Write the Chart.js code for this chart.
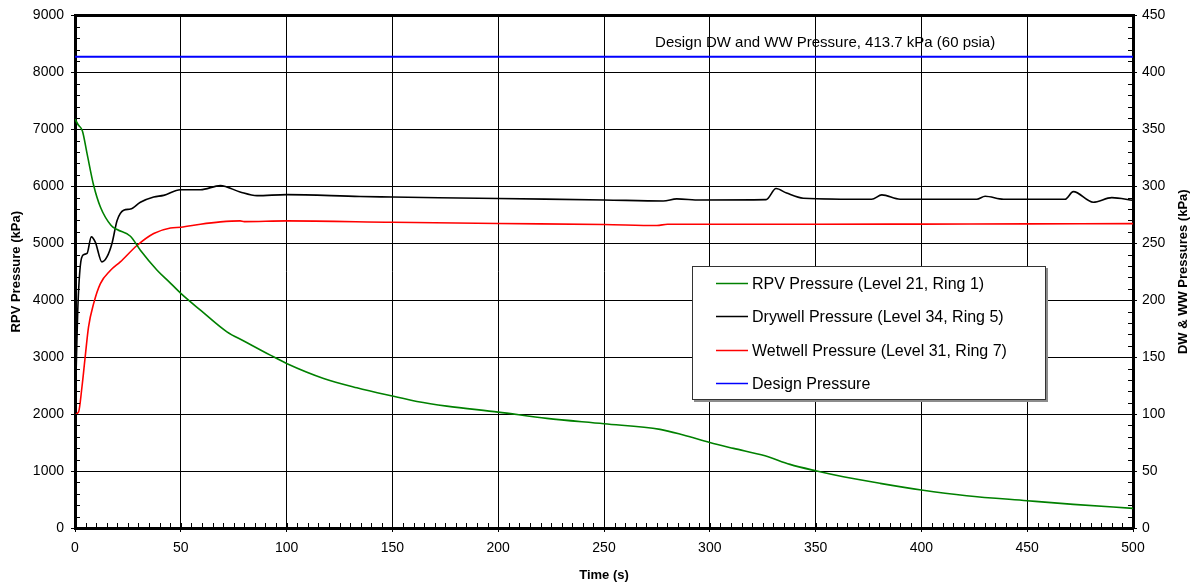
<!DOCTYPE html>
<html lang="en">
<head>
    <meta charset="UTF-8">
    <title>RPV, Drywell and Wetwell Pressures</title>
    <script src="https://cdn.jsdelivr.net/npm/chart.js"></script>
    <style>
        html, body { margin: 0; padding: 0; background: #fff; }
        .chart-container { position: relative; width: 1193px; height: 585px; }
    </style>
</head>
<body>
    <div class="chart-container">
        <canvas id="pressureChart"></canvas>
    </div>

    <script>
        // RPV pressure (left axis, kPa)
        const rpvTime = [0, 1.5, 3.5, 5.7, 8.8, 12, 17, 19.9, 26.2, 30.9, 38.8, 44, 50, 59.3, 71.8, 80, 92.3, 100,
            117.5, 133.2, 150, 161.6, 175.7, 200, 223, 250, 276.5, 287.5, 300, 311.2, 326.1, 337.9, 350, 363.1,
            380.5, 400, 421.4, 450, 471.8, 500];
        const rpvPressure = [7180, 7080, 6970, 6573, 6018, 5637, 5316, 5240, 5123, 4877, 4526, 4340, 4120, 3825,
            3444, 3280, 3035, 2889, 2626, 2462, 2316, 2222, 2140, 2035, 1924, 1830, 1731, 1632, 1500, 1398, 1268,
            1117, 1005, 900, 784, 667, 567, 479, 415, 345];

        // Drywell pressure (right axis, kPa)
        const dwTime = [0, 0.7, 1.3, 2.5, 4.1, 5.7, 7.7, 9.6, 12.7, 15.1, 17.5, 19.9, 23, 26.2, 30.9, 37.2, 41.9,
            49.8, 59.3, 68.7, 78, 86, 100, 134.8, 150, 200, 250, 278, 284.4, 295.4, 326.6, 331.3, 336.3, 344.2,
            376.5, 381.3, 389.9, 426.2, 430.1, 438.8, 467.9, 471.8, 481.2, 490, 500];
        const dwPressure = [100, 150, 191, 230, 240, 241, 255.6, 251, 233.6, 238, 250, 270, 279, 280, 286, 290.6,
            292, 297, 297, 300.6, 295, 291.8, 292.7, 291, 290.6, 289.2, 288, 287.1, 288.9, 288, 288.3, 298, 294,
            289.5, 288.6, 292.4, 288.6, 288.6, 291.2, 288.6, 288.6, 295.3, 286, 290, 287.7];

        // Wetwell pressure (right axis, kPa)
        const wwTime = [0, 1.7, 3.3, 4.8, 6.4, 8.8, 12, 16.7, 21.4, 29.3, 37.2, 45.1, 50, 59.3, 68.7, 78, 80, 100,
            150, 200, 250, 275, 280, 300, 350, 400, 450, 500];
        const wwPressure = [100, 102, 124, 150, 176.6, 197, 214.6, 226, 233.6, 248, 258.5, 263.4, 264, 266.7,
            268.7, 269.6, 269, 269.6, 268.4, 267.3, 266.4, 265.5, 266.7, 266.7, 266.7, 266.8, 267, 267.2];

        // Design pressure (right axis, kPa)
        const designTime = [0, 500];
        const designPressure = [413.7, 413.7];

        const seriesLabels = [
            'RPV Pressure (Level 21, Ring 1)',
            'Drywell Pressure (Level 34, Ring 5)',
            'Wetwell Pressure (Level 31, Ring 7)',
            'Design Pressure'
        ];
        const designNote = 'Design DW and WW Pressure, 413.7 kPa (60 psia)';

        const FONT = "'Liberation Sans', Arial, sans-serif";

        function toPoints(xs, ys) {
            return xs.map((x, i) => ({ x: x, y: ys[i] }));
        }

        // minor ticks pointing into the plot, thick top frame
        const frameTicks = {
            id: 'frameTicks',
            afterDraw(chart) {
                const { ctx, chartArea: a, scales } = chart;
                ctx.save();
                ctx.strokeStyle = '#000';
                ctx.lineWidth = 1;
                ctx.beginPath();
                for (let t = 0; t <= 500; t += 5) {
                    const px = Math.round(scales.x.getPixelForValue(t)) + 0.5;
                    ctx.moveTo(px, a.bottom);
                    ctx.lineTo(px, a.bottom - 5);
                }
                for (let v = 0; v <= 9000; v += 200) {
                    const py = Math.round(scales.y.getPixelForValue(v)) + 0.5;
                    ctx.moveTo(a.left, py);
                    ctx.lineTo(a.left + 5, py);
                }
                for (let v = 0; v <= 450; v += 10) {
                    const py = Math.round(scales.y1.getPixelForValue(v)) + 0.5;
                    ctx.moveTo(a.right, py);
                    ctx.lineTo(a.right - 5, py);
                }
                ctx.stroke();
                ctx.lineWidth = 3;
                ctx.beginPath();
                ctx.moveTo(a.left - 1, a.top);
                ctx.lineTo(a.right + 1, a.top);
                ctx.stroke();

                // right axis title, reading bottom to top
                ctx.fillStyle = '#000';
                ctx.font = 'bold 13px ' + FONT;
                ctx.textAlign = 'center';
                ctx.textBaseline = 'middle';
                ctx.translate(1183, (a.top + a.bottom) / 2);
                ctx.rotate(-Math.PI / 2);
                ctx.fillText('DW & WW Pressures (kPa)', 0, 0);
                ctx.restore();

                // design pressure note
                ctx.save();
                ctx.fillStyle = '#000';
                ctx.font = '15px ' + FONT;
                ctx.textAlign = 'center';
                ctx.textBaseline = 'middle';
                ctx.fillText(designNote, scales.x.getPixelForValue(354.5), scales.y1.getPixelForValue(426.3));
                ctx.restore();
            }
        };

        // legend box inside the plot
        const boxLegend = {
            id: 'boxLegend',
            afterDraw(chart) {
                const { ctx } = chart;
                const bx = 692, by = 266, bw = 354, bh = 134;
                ctx.save();
                ctx.fillStyle = '#8c8c8c';
                ctx.fillRect(bx + 2, by + 2, bw, bh);
                ctx.fillStyle = '#fff';
                ctx.fillRect(bx, by, bw, bh);
                ctx.strokeStyle = '#333';
                ctx.lineWidth = 1;
                ctx.strokeRect(bx + 0.5, by + 0.5, bw - 1, bh - 1);
                ctx.font = '16px ' + FONT;
                ctx.textBaseline = 'middle';
                ctx.textAlign = 'left';
                chart.data.datasets.forEach((ds, i) => {
                    const ry = Math.round(by + 17 + i * 33.4) + 0.5;
                    ctx.strokeStyle = ds.borderColor;
                    ctx.lineWidth = 1.5;
                    ctx.beginPath();
                    ctx.moveTo(716, ry);
                    ctx.lineTo(748, ry);
                    ctx.stroke();
                    ctx.fillStyle = '#000';
                    ctx.fillText(ds.label, 752, ry + 1);
                });
                ctx.restore();
            }
        };

        new Chart(document.getElementById('pressureChart'), {
            type: 'line',
            data: {
                datasets: [
                    {
                        label: seriesLabels[0],
                        data: toPoints(rpvTime, rpvPressure),
                        borderColor: '#008000',
                        borderWidth: 1.6,
                        yAxisID: 'y'
                    },
                    {
                        label: seriesLabels[1],
                        data: toPoints(dwTime, dwPressure),
                        borderColor: '#000000',
                        borderWidth: 1.6,
                        yAxisID: 'y1'
                    },
                    {
                        label: seriesLabels[2],
                        data: toPoints(wwTime, wwPressure),
                        borderColor: '#ff0000',
                        borderWidth: 1.6,
                        yAxisID: 'y1'
                    },
                    {
                        label: seriesLabels[3],
                        data: toPoints(designTime, designPressure),
                        borderColor: '#0000ff',
                        borderWidth: 2,
                        yAxisID: 'y1'
                    }
                ]
            },
            options: {
                responsive: true,
                maintainAspectRatio: false,
                animation: false,
                layout: { padding: { top: 15, left: 0, right: 0, bottom: 0 } },
                elements: {
                    point: { radius: 0 },
                    line: { tension: 0.4, cubicInterpolationMode: 'monotone' }
                },
                plugins: {
                    legend: { display: false },
                    tooltip: { enabled: false }
                },
                scales: {
                    x: {
                        type: 'linear',
                        min: 0,
                        max: 500,
                        afterFit: s => { s.height = 57; },
                        ticks: { stepSize: 50, color: '#000', font: { family: FONT, size: 14 }, padding: 8, maxRotation: 0,
                            callback: v => String(v) },
                        grid: { color: '#000', lineWidth: 1, tickLength: 4, tickColor: '#000' },
                        border: { display: true, color: '#000', width: 3 },
                        title: {
                            display: true,
                            text: 'Time (s)',
                            color: '#000',
                            font: { family: FONT, size: 13, weight: 'bold' },
                            padding: { top: 0, bottom: 2 }
                        }
                    },
                    y: {
                        position: 'left',
                        min: 0,
                        max: 9000,
                        afterFit: s => { s.width = 75; },
                        ticks: { stepSize: 1000, color: '#000', font: { family: FONT, size: 14 }, padding: 7,
                            callback: v => String(v) },
                        grid: { color: '#000', lineWidth: 1, tickLength: 4, tickColor: '#000' },
                        border: { display: true, color: '#000', width: 3 },
                        title: {
                            display: true,
                            text: 'RPV Pressure (kPa)',
                            color: '#000',
                            font: { family: FONT, size: 13, weight: 'bold' },
                            padding: { top: 9, bottom: 2 }
                        }
                    },
                    y1: {
                        position: 'right',
                        min: 0,
                        max: 450,
                        afterFit: s => { s.width = 60; },
                        ticks: { stepSize: 50, color: '#000', font: { family: FONT, size: 14 }, padding: 5,
                            callback: v => String(v) },
                        grid: { drawOnChartArea: false, tickLength: 4, tickColor: '#000' },
                        border: { display: true, color: '#000', width: 3 }
                    }
                }
            },
            plugins: [frameTicks, boxLegend]
        });
    </script>
</body>
</html>
